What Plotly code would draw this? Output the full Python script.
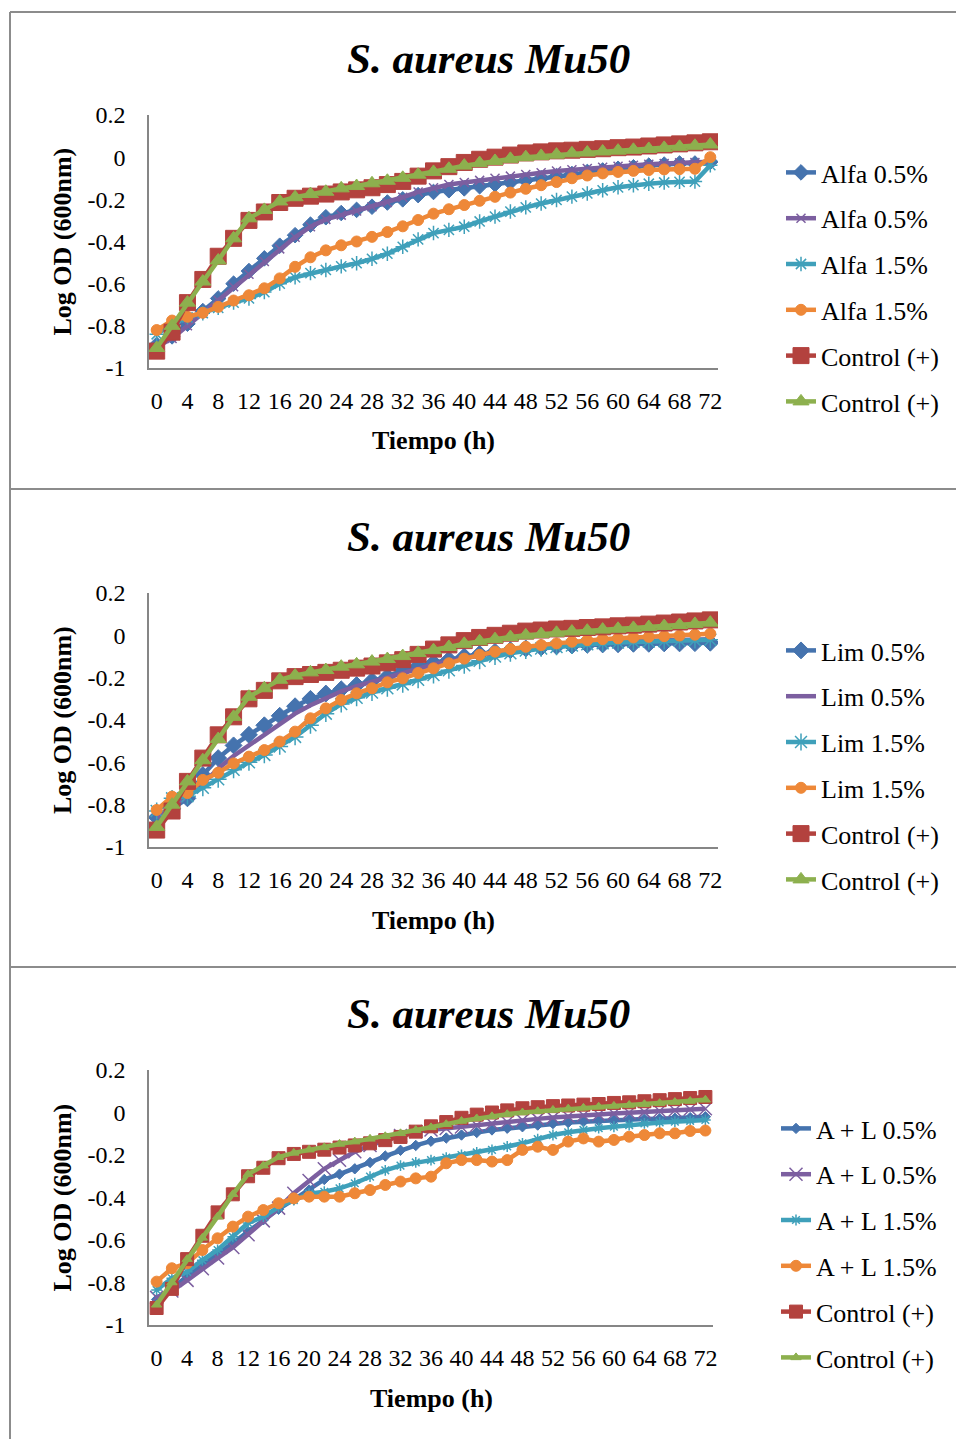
import plotly.graph_objects as go

W, H = 956, 1439

hours = [0, 2, 4, 6, 8, 10, 12, 14, 16, 18, 20, 22, 24, 26, 28, 30, 32, 34, 36,
         38, 40, 42, 44, 46, 48, 50, 52, 54, 56, 58, 60, 62, 64, 66, 68, 70, 72]
x_ticks = [0, 4, 8, 12, 16, 20, 24, 28, 32, 36, 40, 44, 48, 52, 56, 60, 64, 68, 72]
y_ticks = [0.2, 0, -0.2, -0.4, -0.6, -0.8, -1]
y_tick_text = ["0.2", "0", "-0.2", "-0.4", "-0.6", "-0.8", "-1"]

control_red = [-0.92, -0.83, -0.69, -0.58, -0.47, -0.385, -0.30, -0.26, -0.215, -0.195, -0.185,
               -0.175, -0.165, -0.155, -0.145, -0.13, -0.115, -0.09, -0.065, -0.045, -0.025,
               -0.01, 0.0, 0.01, 0.02, 0.025, 0.03, 0.033, 0.037, 0.04, 0.045, 0.048, 0.053,
               0.058, 0.063, 0.068, 0.073]
control_green = [-0.905, -0.80, -0.69, -0.59, -0.49, -0.385, -0.29, -0.25, -0.21, -0.19, -0.175,
                 -0.164, -0.148, -0.137, -0.124, -0.112, -0.098, -0.083, -0.07, -0.055, -0.04,
                 -0.028, -0.018, -0.008, 0.0, 0.006, 0.012, 0.018, 0.022, 0.027, 0.031, 0.035,
                 0.039, 0.044, 0.049, 0.054, 0.06]

# Panel 1: Alfa
alfa05_a = [-0.89, -0.85, -0.79, -0.73, -0.67, -0.6, -0.54, -0.48, -0.42, -0.37, -0.32, -0.285,
            -0.265, -0.25, -0.235, -0.215, -0.2, -0.18, -0.165, -0.157, -0.148, -0.138, -0.128,
            -0.119, -0.11, -0.1, -0.09, -0.08, -0.07, -0.063, -0.055, -0.048, -0.04, -0.035,
            -0.03, -0.03, -0.022]
alfa05_b = [-0.9, -0.86, -0.8, -0.74, -0.68, -0.615, -0.555, -0.495, -0.435, -0.38, -0.33, -0.295,
            -0.275, -0.255, -0.235, -0.215, -0.19, -0.165, -0.145, -0.13, -0.12, -0.11, -0.1,
            -0.09, -0.082, -0.074, -0.066, -0.06, -0.054, -0.048, -0.043, -0.038, -0.034, -0.03,
            -0.027, -0.025, -0.022]
alfa15_a = [-0.84, -0.79, -0.76, -0.74, -0.715, -0.69, -0.67, -0.64, -0.6, -0.57, -0.55, -0.535,
            -0.518, -0.503, -0.482, -0.458, -0.425, -0.39, -0.36, -0.345, -0.33, -0.305, -0.282,
            -0.258, -0.238, -0.22, -0.203, -0.187, -0.172, -0.157, -0.143, -0.133, -0.126, -0.12,
            -0.117, -0.116, -0.038]
alfa15_b = [-0.82, -0.775, -0.757, -0.738, -0.71, -0.68, -0.655, -0.622, -0.575, -0.52, -0.475,
            -0.442, -0.418, -0.4, -0.378, -0.355, -0.328, -0.298, -0.268, -0.247, -0.227, -0.207,
            -0.188, -0.168, -0.15, -0.133, -0.118, -0.1, -0.087, -0.077, -0.07, -0.065, -0.061,
            -0.058, -0.057, -0.055, 0.0]

# Panel 2: Lim
lim05_a = [-0.86, -0.82, -0.77, -0.66, -0.58, -0.52, -0.47, -0.425, -0.38, -0.335, -0.3, -0.275,
           -0.255, -0.235, -0.215, -0.195, -0.165, -0.145, -0.13, -0.115, -0.1, -0.088, -0.078,
           -0.07, -0.062, -0.057, -0.052, -0.048, -0.045, -0.043, -0.042, -0.04, -0.04, -0.038,
           -0.038, -0.037, -0.035]
lim05_b = [-0.86, -0.81, -0.76, -0.7, -0.63, -0.57, -0.52, -0.47, -0.42, -0.37, -0.33, -0.295,
           -0.265, -0.24, -0.22, -0.2, -0.175, -0.155, -0.138, -0.122, -0.108, -0.095, -0.083,
           -0.073, -0.064, -0.056, -0.049, -0.043, -0.038, -0.034, -0.031, -0.028, -0.026,
           -0.024, -0.022, -0.02, -0.018]
lim15_a = [-0.83, -0.77, -0.76, -0.72, -0.68, -0.635, -0.6, -0.565, -0.525, -0.48, -0.425, -0.37,
           -0.325, -0.295, -0.27, -0.25, -0.232, -0.21, -0.188, -0.165, -0.142, -0.12, -0.1,
           -0.085, -0.072, -0.062, -0.055, -0.048, -0.042, -0.038, -0.034, -0.031, -0.029,
           -0.027, -0.025, -0.023, -0.021]
lim15_b = [-0.825, -0.762, -0.745, -0.683, -0.649, -0.605, -0.573, -0.542, -0.502, -0.455, -0.392,
           -0.345, -0.305, -0.274, -0.25, -0.222, -0.203, -0.178, -0.156, -0.132, -0.11, -0.092,
           -0.077, -0.065, -0.054, -0.046, -0.038, -0.03, -0.023, -0.018, -0.014, -0.01, -0.007,
           -0.004, -0.001, 0.003, 0.008]

# Panel 3: A + L
al05_a = [-0.88, -0.83, -0.77, -0.72, -0.67, -0.615, -0.56, -0.505, -0.455, -0.41, -0.365, -0.315,
          -0.29, -0.265, -0.235, -0.205, -0.178, -0.155, -0.135, -0.12, -0.106, -0.094, -0.082,
          -0.074, -0.067, -0.059, -0.052, -0.047, -0.043, -0.039, -0.035, -0.033, -0.031,
          -0.029, -0.027, -0.024, -0.02]
al05_b = [-0.87, -0.84, -0.79, -0.735, -0.685, -0.635, -0.575, -0.51, -0.45, -0.38, -0.32, -0.265,
          -0.225, -0.185, -0.155, -0.13, -0.108, -0.09, -0.082, -0.075, -0.068, -0.06, -0.052,
          -0.045, -0.036, -0.03, -0.024, -0.018, -0.013, -0.009, -0.005, -0.001, 0.003, 0.007,
          0.011, 0.015, 0.018]
al15_a = [-0.835, -0.78, -0.75, -0.695, -0.647, -0.585, -0.52, -0.49, -0.445, -0.412, -0.382,
          -0.373, -0.357, -0.333, -0.302, -0.272, -0.25, -0.235, -0.224, -0.212, -0.2, -0.188,
          -0.176, -0.16, -0.145, -0.125, -0.106, -0.093, -0.082, -0.074, -0.067, -0.059, -0.051,
          -0.047, -0.043, -0.039, -0.035]
al15_b = [-0.796, -0.733, -0.71, -0.647, -0.592, -0.537, -0.49, -0.459, -0.427, -0.404, -0.396,
          -0.396, -0.396, -0.38, -0.365, -0.341, -0.325, -0.31, -0.302, -0.239, -0.224, -0.224,
          -0.231, -0.224, -0.176, -0.161, -0.176, -0.137, -0.122, -0.137, -0.129, -0.114, -0.106,
          -0.098, -0.098, -0.087, -0.085]

title_text = "S. aureus Mu50"
x_title = "Tiempo (h)"
y_title = "Log OD (600nm)"

BLUE, PURPLE, TEAL = "#4573AE", "#7C5FA0", "#3FA0BA"
ORANGE, RED, GREEN = "#EE8838", "#B3423E", "#8DB04E"
FONT = "Liberation Serif, Times New Roman, serif"

# panel geometry in pixels
panels = [
    dict(x0=149, x1=718, yt=115, yb=368, lx=781, ly=149,
         names=["Alfa 0.5%", "Alfa 0.5%", "Alfa 1.5%", "Alfa 1.5%", "Control (+)", "Control (+)"],
         data=[alfa05_a, alfa05_b, alfa15_a, alfa15_b, control_red, control_green],
         sizes=[12, 9, 12, 11, 16, 14], purple_marker=True),
    dict(x0=149, x1=718, yt=593, yb=847, lx=781, ly=627,
         names=["Lim 0.5%", "Lim 0.5%", "Lim 1.5%", "Lim 1.5%", "Control (+)", "Control (+)"],
         data=[lim05_a, lim05_b, lim15_a, lim15_b, control_red, control_green],
         sizes=[13, 0, 14, 11, 16, 14], purple_marker=False),
    dict(x0=149, x1=713, yt=1070, yb=1325, lx=776, ly=1105,
         names=["A + L 0.5%", "A + L 0.5%", "A + L 1.5%", "A + L 1.5%", "Control (+)", "Control (+)"],
         data=[al05_a, al05_b, al15_a, al15_b, control_red, control_green],
         sizes=[8, 13, 9, 11, 13, 9], purple_marker=True),
]

colors = [BLUE, PURPLE, TEAL, ORANGE, RED, GREEN]
symbols = ["diamond", "x-thin-open", "asterisk-open", "circle", "square", "triangle-up"]

fig = go.Figure()
layout = dict(width=W, height=H, autosize=False,
              margin=dict(l=0, r=0, t=0, b=0, pad=0, autoexpand=False),
              paper_bgcolor="white", plot_bgcolor="white", showlegend=True,
              font=dict(family=FONT, size=24, color="black"))
annotations = []
shapes = []

for i, p in enumerate(panels):
    k = "" if i == 0 else str(i + 1)
    xa, ya, lg = "x" + k, "y" + k, "legend" + k
    for j in range(6):
        col = colors[j]
        sym = symbols[j]
        mode = "lines+markers"
        if j == 1 and not p["purple_marker"]:
            mode = "lines"
        lw = 1.5 if "open" in sym else 1
        fig.add_trace(go.Scatter(
            x=hours, y=p["data"][j], name=p["names"][j], mode=mode,
            xaxis=xa, yaxis=ya, legend=lg, legendgroup=f"p{i}s{j}",
            line=dict(color=col, width=4.5),
            marker=dict(symbol=sym, size=p["sizes"][j] if p["sizes"][j] else 6, color=col,
                        line=dict(color=col, width=lw)),
        ))
    layout["xaxis" + k] = dict(
        domain=[p["x0"] / W, p["x1"] / W], anchor=ya, range=[-1, 73], automargin=False,
        tickmode="array", tickvals=x_ticks, ticktext=[str(v) for v in x_ticks],
        showline=True, linecolor="#868686", linewidth=1.5, showgrid=False, zeroline=False,
        ticks="", ticklabelstandoff=10, tickfont=dict(size=24, family=FONT))
    layout["yaxis" + k] = dict(
        domain=[1 - p["yb"] / H, 1 - p["yt"] / H], anchor=xa, range=[-1, 0.2], automargin=False,
        tickmode="array", tickvals=y_ticks, ticktext=y_tick_text,
        showline=True, linecolor="#868686", linewidth=1.5, showgrid=False, zeroline=False,
        ticks="", ticklabelstandoff=17, tickfont=dict(size=24, family=FONT))
    layout[lg] = dict(x=p["lx"] / W, y=1 - p["ly"] / H, xanchor="left", yanchor="top",
                      font=dict(size=26, family=FONT), tracegroupgap=9,
                      traceorder="grouped", bgcolor="rgba(0,0,0,0)", itemwidth=30)
    cx = (p["x0"] + p["x1"]) / 2
    top = p["yt"]
    annotations.append(dict(text=f"<b><i>{title_text}</i></b>", x=488 / W, y=1 - (top - 57) / H,
                            xref="paper", yref="paper", showarrow=False,
                            xanchor="center", yanchor="middle",
                            font=dict(size=43, family=FONT)))
    annotations.append(dict(text=f"<b>{x_title}</b>", x=cx / W, y=1 - (p["yb"] + 73) / H,
                            xref="paper", yref="paper", showarrow=False,
                            xanchor="center", yanchor="middle",
                            font=dict(size=26, family=FONT)))
    annotations.append(dict(text=f"<b>{y_title}</b>", x=62 / W,
                            y=1 - ((p["yt"] + p["yb"]) / 2) / H, textangle=-90,
                            xref="paper", yref="paper", showarrow=False,
                            xanchor="center", yanchor="middle",
                            font=dict(size=26, family=FONT)))

# panel frames
for yline in [12, 489, 967]:
    shapes.append(dict(type="line", xref="paper", yref="paper", x0=10 / W, x1=1,
                       y0=1 - yline / H, y1=1 - yline / H, line=dict(color="#8C8C8C", width=2)))
shapes.append(dict(type="line", xref="paper", yref="paper", x0=10 / W, x1=10 / W,
                   y0=0, y1=1 - 12 / H, line=dict(color="#8C8C8C", width=2)))

layout["annotations"] = annotations
layout["shapes"] = shapes
fig.update_layout(**layout)
fig.write_html("out.html")
